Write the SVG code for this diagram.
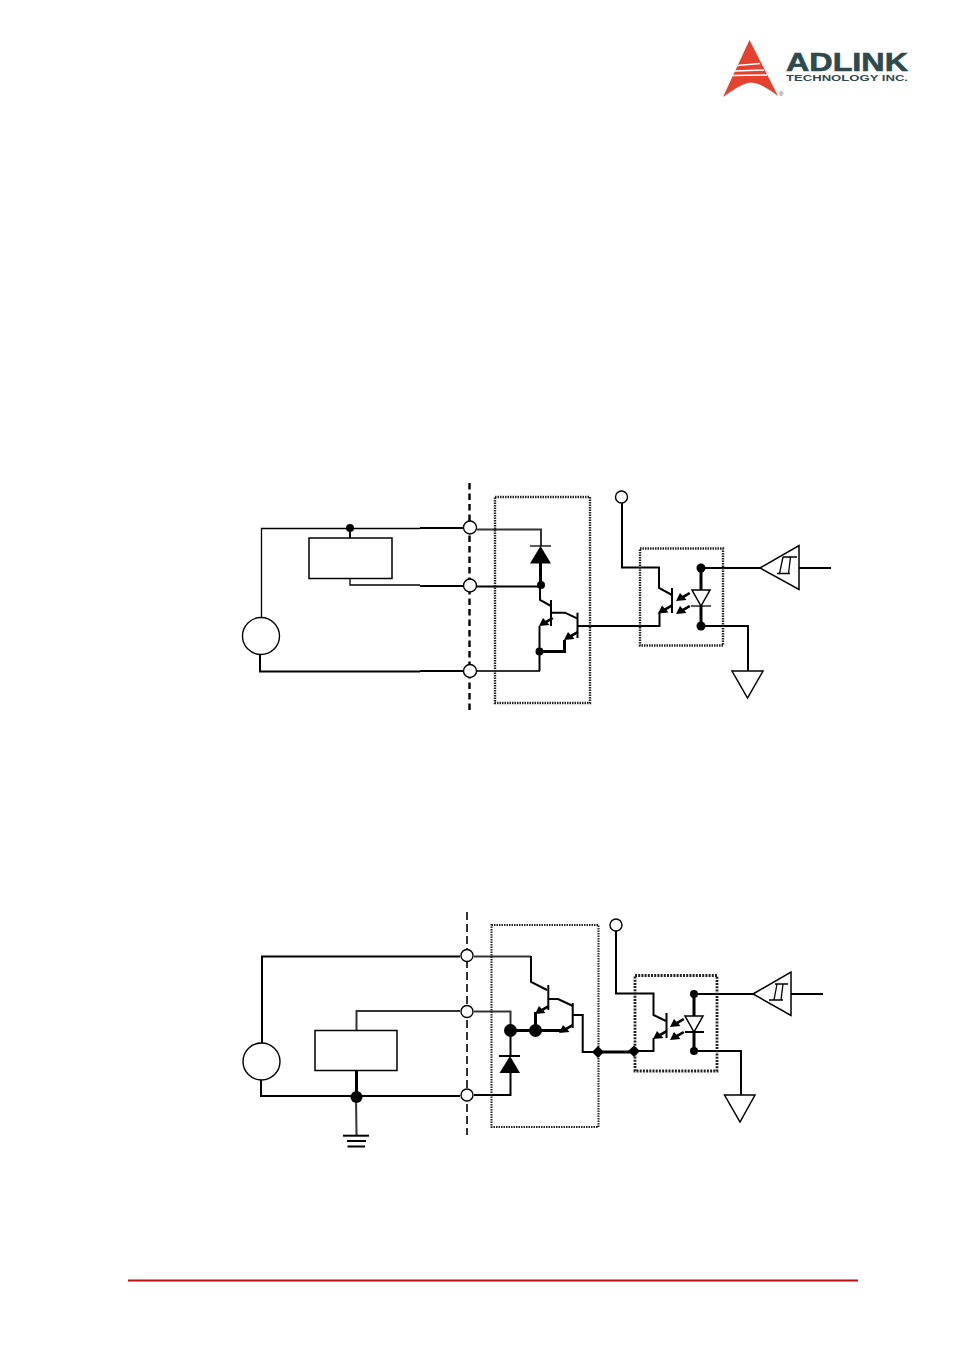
<svg xmlns="http://www.w3.org/2000/svg" width="954" height="1352" viewBox="0 0 954 1352">
<style>
.w{fill:none;stroke:#000;stroke-width:1.3}
.m{fill:none;stroke:#000;stroke-width:2}
.t{fill:none;stroke:#000;stroke-width:3}
.g{fill:none;stroke:#333;stroke-width:2}
.c{fill:#fff;stroke:#000;stroke-width:1.4}
.d{fill:#000;stroke:none}
.b{fill:#fff;stroke:#000;stroke-width:1.5}
.dot{fill:none;stroke:#222;stroke-width:2.400;stroke-dasharray:1.500 1}
.brand{font-family:"Liberation Sans",Arial,sans-serif;font-weight:700;fill:#2e4a4e}
</style>
<defs>
<path id="arr" d="M0 0L4 -8L6.500 -5.200L13 -9L14.500 -7L8.500 -3.200L10.500 -1Z" fill="#000"/>
</defs>
<rect width="954" height="1352" fill="#fff"/>
<g id="logo">
<path d="M749.500 40L723 97C733 90 743 83 751 82.500C760 83 770 90 778 96Z" fill="#e5412f"/>
<path d="M737 65.500L760 63.500M735 71L764 70M733 75.500L767 75" stroke="#fff" stroke-width="1.500" fill="none"/>
<text class="brand" x="786" y="71" font-size="25" textLength="122" lengthAdjust="spacingAndGlyphs" stroke="#2e4a4e" stroke-width=".6">ADLINK</text>
<text class="brand" x="786" y="81" font-size="9.500" textLength="122" lengthAdjust="spacingAndGlyphs">TECHNOLOGY INC.</text>
<text x="779" y="96" font-size="6" font-family="'Liberation Sans',Arial,sans-serif" fill="#444">®</text>
</g>
<line id="footer-rule" x1="128" y1="1280.500" x2="858" y2="1280.500" stroke="#c00d0d" stroke-width="2"/>

<g id="connectors">
<path class="w" d="M261.500 618V528.500H420"/>
<path class="m" d="M420 528H463"/>
<path class="w" d="M350 578V585H420"/>
<path class="m" d="M420 586H463"/>
<path class="m" d="M260 654V671.500H420"/>
<path class="m" d="M420 671H463"/>
<path d="M469.500 483V712" fill="none" stroke="#000" stroke-width="2.400" stroke-dasharray="6.500 4"/>
<path class="g" d="M477 529.500H541V546"/>
<path class="t" d="M540.500 563V585"/>
<path class="m" d="M477 586.500H541"/>
<path class="m" d="M540 585V600L551 606"/>
<path class="m" d="M551 600V626"/>
<path class="g" d="M477 671H540"/>
<path class="m" d="M539.500 671V626"/>
<path class="t" d="M540 651.500H564.500V640"/>
<path class="m" d="M551 612.700H565L577 618.300"/>
<path class="m" d="M577.500 612.700V638"/>
<path class="m" d="M577.500 626H659.500V612"/>
<path class="m" d="M622 503V567.500H659V588L672 595"/>
<path class="m" d="M672 588V613"/>
<path class="t" d="M701 568V590"/>
<path class="t" d="M701 606V626"/>
<path class="m" d="M701 568H760"/>
<path class="m" d="M701 626H748V671"/>
<path class="m" d="M799 568H831"/>
<path class="m" d="M262 1044V956.500H460"/>
<path class="m" d="M261 1079V1096H460"/>
<path class="g" d="M356.500 1031V1011H460"/>
<path class="t" d="M356.500 1070V1097"/>
<path class="g" d="M356 1097L356.500 1135"/>
<path class="m" d="M343 1135.700H369"/>
<path class="m" d="M347 1141H366M347.500 1146.500H365"/>
<path d="M467 912V1135" fill="none" stroke="#000" stroke-width="1.600" stroke-dasharray="8 4"/>
<path class="g" d="M474 956.500H531"/>
<path class="m" d="M531 956V982L547 990"/>
<path class="m" d="M548.300 985V1010"/>
<path class="m" d="M548.300 999H558L573 1006"/>
<path class="m" d="M572.700 1003V1028"/>
<path class="m" d="M572.700 1015H582.700V1052H598"/>
<path class="g" d="M474 1011.500H510.500V1030"/>
<path class="t" d="M510 1030.500H562"/>
<path class="t" d="M535.500 1030V1012"/>
<path class="m" d="M510.500 1030V1056"/>
<path class="m" d="M510.500 1072V1095H474"/>
<path class="t" d="M598 1052H634"/>
<path class="m" d="M616 931V993.500H653.500V1015L666 1021"/>
<path class="m" d="M666.500 1013V1038"/>
<path class="m" d="M634 1051H653.500V1038"/>
<path class="t" d="M694 994V1016M694 1032V1051"/>
<path class="m" d="M694 994H753"/>
<path class="m" d="M694 1051H741V1095"/>
<path class="m" d="M791 994H823"/>
</g>

<g id="boundary-1"><rect class="dot" x="495" y="497" width="95" height="206"/></g>
<g id="load-1"><rect class="b" x="309" y="538" width="83" height="40.500"/><path class="m" d="M350 528V538"/><circle class="d" cx="350" cy="528" r="4"/></g>
<g id="source-1"><circle class="c" cx="261" cy="636" r="18.500"/></g>
<g id="terminals-1">
<circle class="c" cx="470" cy="527.500" r="6.500"/><circle class="c" cx="470" cy="585.500" r="6.500"/><circle class="c" cx="470" cy="671" r="6.500"/>
</g>
<g id="diode-1">
<path class="d" d="M530 563.500L540.500 546L551 563.500Z"/><path class="w" d="M530 546H551"/>
<circle class="d" cx="541" cy="585" r="4"/>
</g>
<g id="darlington-1">
<circle class="d" cx="539.500" cy="651.500" r="4"/>
<use href="#arr" x="539" y="626"/>
<use href="#arr" x="564" y="640"/>
</g>
<g id="vcc-1"><circle class="c" cx="621.500" cy="497" r="6"/></g>
<g id="opto-1">
<rect class="dot" x="640" y="548.500" width="83" height="97"/>
<use href="#arr" x="658" y="613.500"/>
<use href="#arr" x="676" y="601"/>
<use href="#arr" x="676" y="614"/>
<path class="b" d="M692 590H710L701 606Z"/><path class="w" d="M691 606H711"/>
<circle class="d" cx="701" cy="568" r="4.500"/><circle class="d" cx="701" cy="626" r="4.500"/>
</g>
<g id="schmitt-1">
<path class="b" d="M760 568L799 545.500V589.500Z"/>
<path class="w" d="M777 573.500H790M783 557H797M783 557L779.500 573.500M790.500 557L788.500 573.500"/>
</g>
<g id="ground-1"><path class="b" d="M732 671H763L747.500 698Z"/></g>

<g id="boundary-2"><rect class="dot" style="stroke-width:2" x="491.500" y="925" width="107" height="202"/></g>
<g id="source-2"><circle class="c" cx="261.500" cy="1061.500" r="18.500"/></g>
<g id="load-2"><rect class="b" x="315" y="1030.500" width="82" height="40"/></g>
<g id="terminals-2">
<circle class="c" cx="467" cy="955.500" r="6"/><circle class="c" cx="467" cy="1011.500" r="6"/><circle class="c" cx="467" cy="1095" r="6"/>
<circle class="d" cx="356.500" cy="1097" r="6"/>
</g>
<g id="diode-2">
<path class="d" d="M499.500 1073L510 1056L520 1073Z"/><path class="m" d="M499 1056H520"/>
<circle class="d" cx="510.500" cy="1030.500" r="6.500"/><circle class="d" cx="535.500" cy="1030.500" r="6.500"/>
</g>
<g id="darlington-2">
<use href="#arr" x="535" y="1014"/>
<use href="#arr" x="559" y="1033"/>
</g>
<g id="vcc-2"><circle class="c" cx="616" cy="925" r="6"/></g>
<g id="opto-2">
<rect fill="none" stroke="#222" stroke-width="2.800" stroke-dasharray="2 1.200" x="635" y="975.500" width="82" height="95.500"/>
<path class="d" d="M598 1046L604 1052L598 1058L592 1052ZM634 1045.500L640 1051L634 1057L628 1051Z"/>
<use href="#arr" x="653" y="1039"/>
<use href="#arr" x="670" y="1027"/>
<use href="#arr" x="670" y="1040"/>
<path class="b" d="M685 1016H703L694 1032Z"/><path class="m" d="M685 1032H704"/>
<circle class="d" cx="694" cy="994" r="4"/><circle class="d" cx="694" cy="1051" r="4"/>
</g>
<g id="schmitt-2">
<path class="b" d="M753 994L791 972V1015.500Z"/>
<path class="w" d="M769 1000H783M775 984H788M777 984L774 1000M783 984L781 1000"/>
</g>
<g id="ground-2"><path class="b" d="M724.500 1095H755L740 1122Z"/></g>
</svg>
